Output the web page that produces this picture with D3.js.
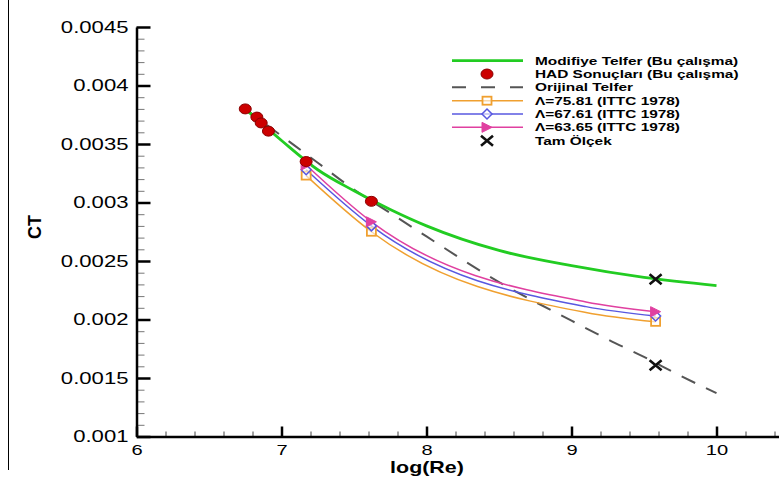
<!DOCTYPE html>
<html>
<head>
<meta charset="utf-8">
<script src="https://cdn.jsdelivr.net/npm/d3@7"></script>
<style>
  body { margin: 0; background: #fff; }
  text { font-family: "Liberation Sans", Arial, sans-serif; }
</style>
</head>
<body>
<div id="chart"></div>
<script>
// HAD results (red dots)
const hadX  = [6.75, 6.83, 6.86, 6.91, 7.17, 7.62];
const hadCT = [0.00380, 0.00373, 0.00368, 0.00361, 0.00335, 0.00301];

// Modifiye Telfer (green)
const modX  = [6.75, 7.0, 7.25, 7.5, 7.75, 8.0, 8.5, 9.0, 9.5, 10.0];
const modCT = [0.00380, 0.00353, 0.00328, 0.00310, 0.00294, 0.00280, 0.00259, 0.00246, 0.00236, 0.00229];

// Orijinal Telfer (dashed)
const origX  = [6.75, 7.0, 7.25, 7.5, 7.75, 8.0, 8.25, 8.5, 8.75, 9.0, 9.25, 9.5, 9.75, 10.0];
const origCT = [0.00380, 0.00357, 0.00334, 0.00311, 0.00291, 0.00271, 0.00251, 0.00232, 0.00215, 0.00199, 0.00183, 0.00168, 0.00152, 0.00137];

// ITTC 1978 curves, marker points and curve points
const ittcX      = [7.17, 7.62, 9.58];
const ittcCurveX = [7.17, 7.62, 9.1, 9.58];
const lam7581 = [0.00323, 0.00275, 0.00206, 0.00198];
const lam6761 = [0.00328, 0.00280, 0.00211, 0.00203];
const lam6365 = [0.00332, 0.002835, 0.00215, 0.002067];

// Tam Ölçek (X marks)
const tamX  = [9.58, 9.58];
const tamCT = [0.002345, 0.00161];

const xTicks = [6, 7, 8, 9, 10];
const yTicks = [0.001, 0.0015, 0.002, 0.0025, 0.003, 0.0035, 0.004, 0.0045];
const yTickLabels = ["0.001", "0.0015", "0.002", "0.0025", "0.003", "0.0035", "0.004", "0.0045"];

const legendLabels = [
  "Modifiye Telfer (Bu çalışma)",
  "HAD Sonuçları (Bu çalışma)",
  "Orijinal Telfer",
  "Λ=75.81 (ITTC 1978)",
  "Λ=67.61 (ITTC 1978)",
  "Λ=63.65 (ITTC 1978)",
  "Tam Ölçek"
];

const W = 779, H = 479;
const SX = 1.34; // horizontal stretch of the text

const svg = d3.select("#chart").append("svg")
  .attr("width", W).attr("height", H);

const x = d3.scaleLinear().domain([6, 10.5]).range([136.5, 136.5 + 4.5 * 145]);
const y = d3.scaleLinear().domain([0.001, 0.0045]).range([436.5, 27]);

// left border line
svg.append("line")
  .attr("x1", 8.5).attr("x2", 8.5).attr("y1", 0).attr("y2", 470)
  .attr("stroke", "#000").attr("stroke-width", 1);

// minor ticks
const xMinor = d3.range(6.2, 10.5, 0.2).filter(v => Math.abs(v - Math.round(v)) > 0.01);
const yMinor = d3.range(0.0011, 0.0045, 0.0001).filter(v => Math.abs(v / 0.0005 - Math.round(v / 0.0005)) > 0.01);

svg.append("g")
  .attr("transform", `translate(0,${y(0.001)})`)
  .call(d3.axisBottom(x).tickValues(xMinor).tickSizeInner(-5).tickSizeOuter(0).tickFormat(""))
  .call(g => g.select(".domain").remove())
  .selectAll("line").attr("stroke", "#444").attr("stroke-width", 1);

svg.append("g")
  .attr("transform", `translate(${x(6)},0)`)
  .call(d3.axisLeft(y).tickValues(yMinor).tickSizeInner(-8).tickSizeOuter(0).tickFormat(""))
  .call(g => g.select(".domain").remove())
  .selectAll("line").attr("stroke", "#777").attr("stroke-width", 1);

// major axes
const xAxis = svg.append("g")
  .attr("transform", `translate(0,${y(0.001)})`)
  .call(d3.axisBottom(x).tickValues(xTicks).tickSizeInner(-10).tickSizeOuter(0).tickPadding(8)
    .tickFormat(d3.format("d")));
xAxis.select(".domain").attr("stroke-width", 2.5);
xAxis.selectAll(".tick line").attr("stroke-width", 2.5);
xAxis.selectAll("text")
  .attr("font-size", 15).attr("fill", "#000")
  .attr("transform", `scale(${SX},1)`);

const yAxis = svg.append("g")
  .attr("transform", `translate(${x(6)},0)`)
  .call(d3.axisLeft(y).tickValues(yTicks).tickSizeInner(-14).tickSizeOuter(0)
    .tickFormat((d, i) => yTickLabels[i]));
yAxis.select(".domain").attr("stroke-width", 2.5);
yAxis.selectAll(".tick line").attr("stroke-width", 2.5);
yAxis.selectAll("text")
  .attr("font-size", 16.5).attr("fill", "#000")
  .attr("x", -6)
  .attr("transform", `scale(${SX},1)`);

// axis titles
svg.append("text")
  .attr("transform", `translate(427,473) scale(${SX},1)`)
  .attr("text-anchor", "middle")
  .attr("font-size", 16).attr("font-weight", "bold")
  .text("log(Re)");

svg.append("text")
  .attr("transform", "translate(41,227) rotate(-90)")
  .attr("text-anchor", "middle")
  .attr("font-size", 18).attr("font-weight", "bold")
  .text("CT");

// curves
const line = d3.line()
  .x(d => x(d[0])).y(d => y(d[1]))
  .curve(d3.curveMonotoneX);

const plot = svg.append("g");

plot.append("path")
  .datum(origX.map((v, i) => [v, origCT[i]]))
  .attr("d", line)
  .attr("fill", "none").attr("stroke", "#555").attr("stroke-width", 2)
  .attr("stroke-dasharray", "15,12");

const ittc = [
  { vals: lam7581, color: "#f0a030", marker: "square" },
  { vals: lam6761, color: "#5858e0", marker: "diamond" },
  { vals: lam6365, color: "#e040a0", marker: "triangle" }
];

ittc.forEach(s => {
  plot.append("path")
    .datum(ittcCurveX.map((v, i) => [v, s.vals[i]]))
    .attr("d", line)
    .attr("fill", "none").attr("stroke", s.color).attr("stroke-width", 1.5);
});

plot.append("path")
  .datum(modX.map((v, i) => [v, modCT[i]]))
  .attr("d", line)
  .attr("fill", "none").attr("stroke", "#22cc22").attr("stroke-width", 2.8);

function drawMarker(g, type, cx, cy, color) {
  if (type === "square") {
    g.append("rect")
      .attr("x", cx - 4.5).attr("y", cy - 4).attr("width", 9).attr("height", 8)
      .attr("fill", "#fff").attr("fill-opacity", 0.6)
      .attr("stroke", color).attr("stroke-width", 1.8);
  } else if (type === "diamond") {
    g.append("path")
      .attr("d", `M${cx},${cy - 5}L${cx + 5},${cy}L${cx},${cy + 5}L${cx - 5},${cy}Z`)
      .attr("fill", "#fff").attr("fill-opacity", 0.6)
      .attr("stroke", color).attr("stroke-width", 1.5);
  } else if (type === "triangle") {
    g.append("path")
      .attr("d", `M${cx - 5},${cy - 5}L${cx + 5},${cy}L${cx - 5},${cy + 5}Z`)
      .attr("fill", color).attr("stroke", color).attr("stroke-width", 1);
  } else if (type === "dot") {
    g.append("ellipse")
      .attr("cx", cx).attr("cy", cy).attr("rx", 6).attr("ry", 5)
      .attr("fill", "#cc0000").attr("stroke", "#8a0000").attr("stroke-width", 1);
  } else if (type === "cross") {
    g.append("path")
      .attr("d", `M${cx - 6},${cy - 5}L${cx + 6},${cy + 5}M${cx + 6},${cy - 5}L${cx - 6},${cy + 5}`)
      .attr("stroke", "#111").attr("stroke-width", 2.6);
  }
}

ittc.forEach(s => {
  ittcX.forEach(v => {
    const i = ittcCurveX.indexOf(v);
    drawMarker(plot, s.marker, x(v), y(s.vals[i]), s.color);
  });
});

hadX.forEach((v, i) => drawMarker(plot, "dot", x(v), y(hadCT[i])));
tamX.forEach((v, i) => drawMarker(plot, "cross", x(v), y(tamCT[i])));

// legend
const legend = svg.append("g");
const lx0 = 452, lx1 = 523, lmx = 487, ltx = 535;
const rowY = i => 60.7 + i * 13.33;

legend.append("line").attr("x1", lx0).attr("x2", lx1).attr("y1", rowY(0)).attr("y2", rowY(0))
  .attr("stroke", "#22cc22").attr("stroke-width", 2.8);
drawMarker(legend, "dot", lmx, rowY(1));
legend.append("line").attr("x1", lx0).attr("x2", lx1).attr("y1", rowY(2)).attr("y2", rowY(2))
  .attr("stroke", "#555").attr("stroke-width", 2).attr("stroke-dasharray", "14,15");
ittc.forEach((s, k) => {
  legend.append("line").attr("x1", lx0).attr("x2", lx1).attr("y1", rowY(3 + k)).attr("y2", rowY(3 + k))
    .attr("stroke", s.color).attr("stroke-width", 1.5);
  drawMarker(legend, s.marker, lmx, rowY(3 + k), s.color);
});
drawMarker(legend, "cross", lmx, rowY(6));

legendLabels.forEach((t, i) => {
  legend.append("text")
    .attr("transform", `translate(${ltx},${rowY(i) + 4}) scale(${SX},1)`)
    .attr("font-size", 11.5).attr("font-weight", "bold")
    .text(t);
});
</script>
</body>
</html>
